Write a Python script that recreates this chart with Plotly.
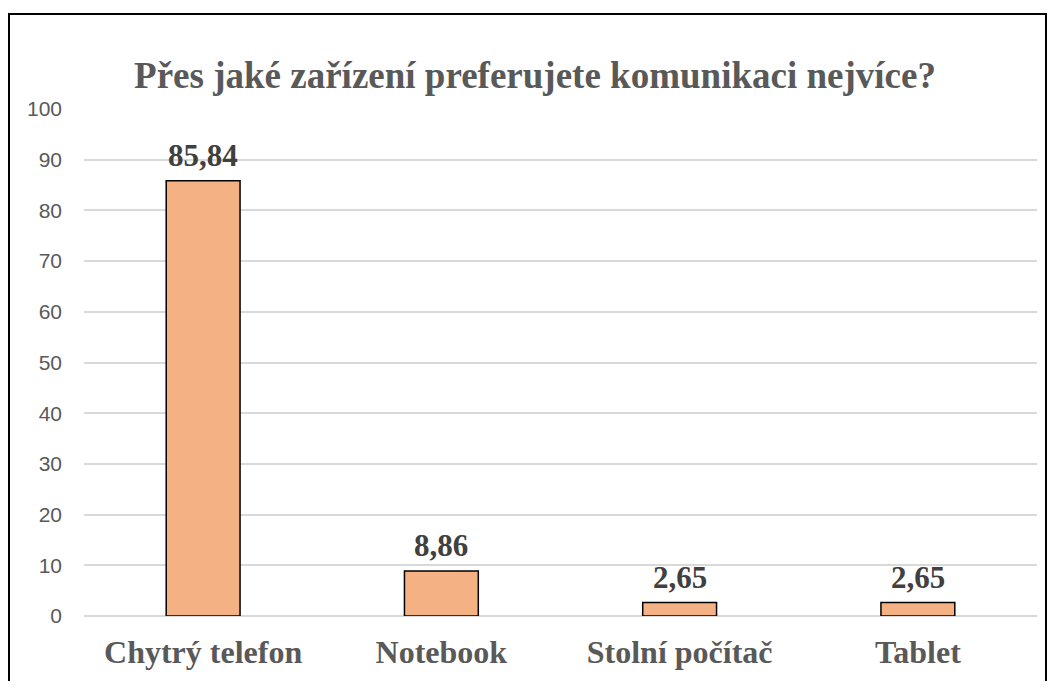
import plotly.graph_objects as go

categories = ["Chytrý telefon", "Notebook", "Stolní počítač", "Tablet"]
values = [85.84, 8.86, 2.65, 2.65]
y_ticks = [0, 10, 20, 30, 40, 50, 60, 70, 80, 90, 100]

serif = "Liberation Serif, Times New Roman, serif"

fig = go.Figure(go.Bar(
    x=categories,
    y=values,
    width=0.31,
    marker=dict(color="#F4B183", line=dict(color="black", width=1.5)),
))

# value labels sit a bit higher above the bars than plotly's outside text
for cat, val in zip(categories, values):
    fig.add_annotation(
        x=cat, y=val, text=f"<b>{val:.2f}</b>".replace(".", ","),
        showarrow=False, yanchor="bottom", yshift=6,
        font=dict(family=serif, size=31, color="#404040"),
    )

# page body has an 8px margin; keep the figure inside the window
fig.update_layout(
    width=1040,
    height=673,
    margin=dict(l=76, r=11, t=101, b=60),
    paper_bgcolor="white",
    plot_bgcolor="white",
    showlegend=False,
    title=dict(
        text="<b>Přes jaké zařízení preferujete komunikaci nejvíce?</b>",
        font=dict(family=serif, size=37, color="#595959"),
        x=(535 - 8) / 1040, xanchor="center",
        y=1 - 67 / 673, yanchor="middle",
    ),
    xaxis=dict(
        showgrid=False,
        showline=False,
        ticks="",
        tickfont=dict(family=serif, size=32, color="#595959", weight="bold"),
        ticklabelstandoff=14,
    ),
    yaxis=dict(
        range=[0, 100],
        tickvals=y_ticks,
        showgrid=True,
        gridcolor="#d9d9d9",
        gridwidth=1.5,
        zeroline=True,
        zerolinecolor="#d9d9d9",
        zerolinewidth=1.5,
        showline=False,
        ticks="",
        tickfont=dict(family="Liberation Sans, Arial, sans-serif", size=21, color="#595959"),
        ticklabelstandoff=21,
    ),
    shapes=[dict(
        type="rect", xref="paper", yref="paper",
        x0=(9 - 84) / 953, x1=(1046 - 84) / 953,
        y0=-0.3, y1=(621 - 13) / 512,
        line=dict(color="black", width=2),
        layer="below",
    )],
)

fig.write_html("out.html")
